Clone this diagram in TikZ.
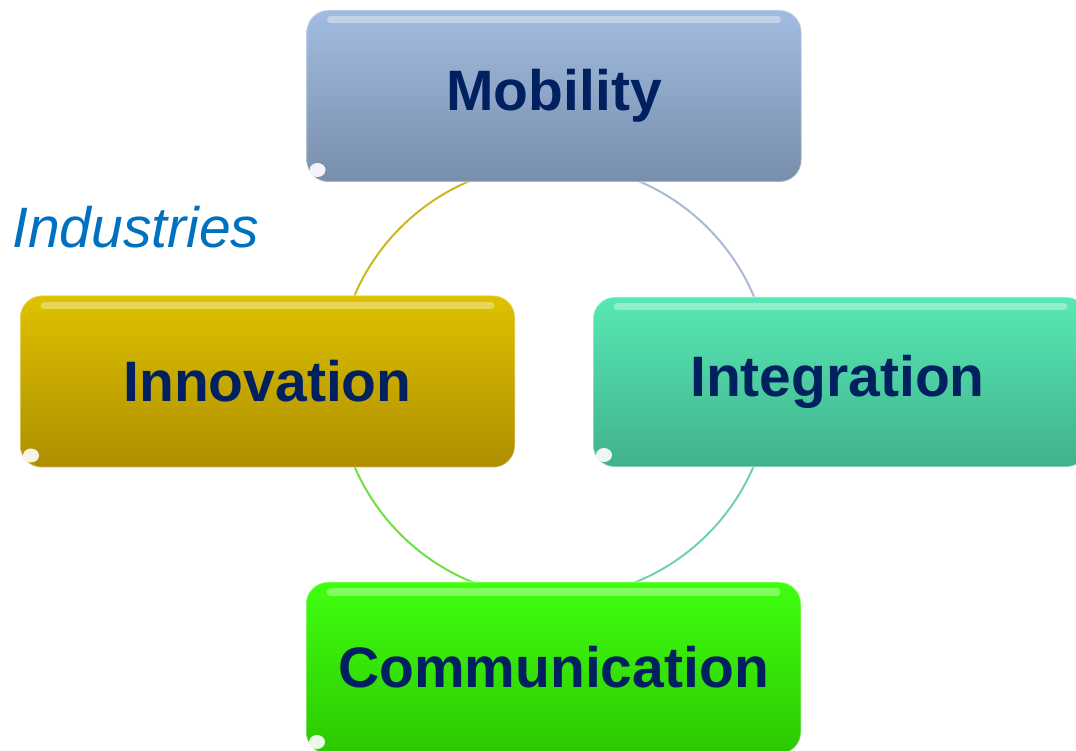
\documentclass[tikz,border=0pt]{standalone}
\usepackage{fontspec}
\setmainfont{Liberation Sans}
\definecolor{navy}{RGB}{0,32,96}
\definecolor{indblue}{RGB}{0,112,192}
\tikzset{
  box/.style={rounded corners=22pt, minimum width=495pt, minimum height=172pt,
    inner sep=0pt, text=navy, font=\bfseries\fontsize{57}{60}\selectfont,
    draw=white, draw opacity=0.35, line width=1.5pt,
    path picture={
      \draw[white,opacity=0.35,line width=7pt,line cap=round]
        ([shift={(24pt,-10pt)}]path picture bounding box.north west) --
        ([shift={(-24pt,-10pt)}]path picture bounding box.north east);
      \fill[white,opacity=0.9]
        ([shift={(11pt,12pt)}]path picture bounding box.south west) ellipse (8pt and 7pt);
    }},
  ring/.style={line width=2pt}
}
\begin{document}
\begin{tikzpicture}[x=1pt,y=1pt]
      \useasboundingbox (0,0) rectangle (1076,750);
      \clip (0,0) rectangle (1076,750);
      \coordinate (hub) at (554,369);
      \begin{scope}[ring]
        \draw[color={rgb,255:red,200;green,184;blue,30}] (hub) ++(180:217) arc (180:90:217);
        \draw[color={rgb,255:red,170;green,186;blue,214}] (hub) ++(90:217) arc (90:0:217);
        \draw[color={rgb,255:red,112;green,208;blue,176}] (hub) ++(0:217) arc (0:-90:217);
        \draw[color={rgb,255:red,112;green,224;blue,64}] (hub) ++(270:217) arc (270:180:217);
      \end{scope}
      \node[box, top color={rgb,255:red,162;green,188;blue,224}, bottom color={rgb,255:red,120;green,142;blue,172}]
        (mob) at (554,654) {\raisebox{-4pt}{Mobility}};
      \node[box, top color={rgb,255:red,222;green,194;blue,0}, bottom color={rgb,255:red,174;green,142;blue,0}]
        (innov) at (267.5,368.5) {Innovation};
      \node[box, minimum height=170pt, top color={rgb,255:red,88;green,232;blue,180}, bottom color={rgb,255:red,64;green,178;blue,140}]
        (integ) at (840.5,368) {\hspace*{-3pt}\raisebox{-3pt}{Integration}\hspace*{3pt}};
      \node[box, top color={rgb,255:red,64;green,255;blue,16}, bottom color={rgb,255:red,44;green,200;blue,0}]
        (comm) at (553.5,82) {\raisebox{2pt}{Communication}};
      \node[anchor=base west, inner sep=0pt, text=indblue, font=\itshape\fontsize{57}{60}\selectfont]
        (ind) at (12,502) {Industries};
    \end{tikzpicture}
\end{document}
